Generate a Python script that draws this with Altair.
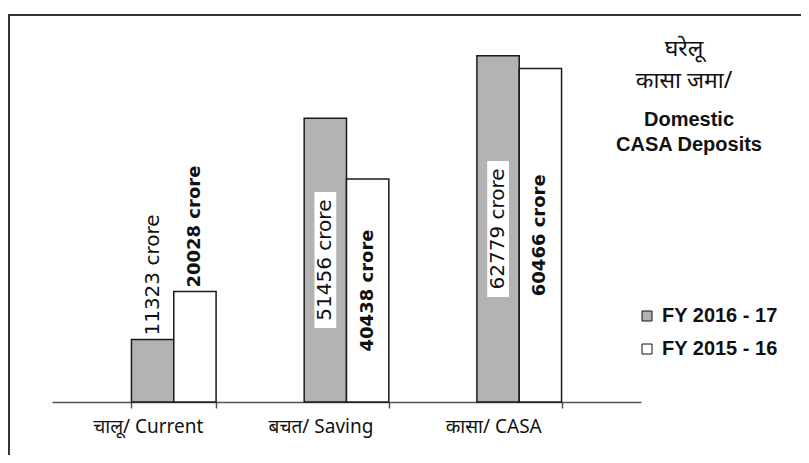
import altair as alt
import pandas as pd

categories = ["चालू/ Current", "बचत/ Saving", "कासा/ CASA"]
series = ["FY 2016 - 17", "FY 2015 - 16"]
values_2016_17 = [11323, 51456, 62779]
values_2015_16 = [20028, 40438, 60466]
labels_2016_17 = ["11323  crore", "51456  crore", "62779 crore"]
labels_2015_16 = ["20028 crore", "40438 crore", "60466 crore"]
title_hi = ["घरेलू", "कासा जमा/"]
title_en = ["Domestic", "CASA Deposits"]
colors = ["#b3b3b3", "#ffffff"]

rows = []
for i, c in enumerate(categories):
    rows.append({"cat": c, "series": series[0], "value": values_2016_17[i], "label": labels_2016_17[i]})
    rows.append({"cat": c, "series": series[1], "value": values_2015_16[i], "label": labels_2015_16[i]})
df = pd.DataFrame(rows)

LATIN = "Liberation Sans"
DEV = "Noto Sans, Noto Sans Devanagari, Lohit Devanagari, sans-serif"

x_enc = alt.X(
    "cat:N", sort=categories, title=None,
    scale=alt.Scale(paddingInner=0.51, paddingOuter=0.46),
    axis=alt.Axis(labelAngle=0, labelFontSize=19, labelFont=DEV, labelColor="#111",
                  labelOffset=-26, labelPadding=9, domainColor="#555", domainWidth=1.5,
                  tickColor="#555", tickSize=6, tickWidth=1.5, tickBand="extent",
                  grid=False, title=None, labelLimit=0),
)
xo_enc = alt.XOffset("series:N", sort=series, scale=alt.Scale(paddingInner=0, paddingOuter=0))
y_enc = alt.Y("value:Q", scale=alt.Scale(domain=[0, 66000]), axis=None)

base = alt.Chart(df)

frame = alt.Chart(pd.DataFrame({"k": [0]})).mark_rect(
    filled=False, stroke="#333", strokeWidth=2
).encode(x=alt.value(-43), x2=alt.value(780), y=alt.value(-23), y2=alt.value(460))

bars = base.mark_bar(stroke="#1a1a1a", strokeWidth=1.5).encode(
    x=x_enc, xOffset=xo_enc, y=y_enc,
    color=alt.Color(
        "series:N", sort=series,
        scale=alt.Scale(domain=series, range=colors),
        legend=alt.Legend(orient="none", legendX=585, legendY=268, title=None,
                          symbolType="square", symbolSize=100, symbolStrokeColor="#111",
                          symbolStrokeWidth=1, labelFont=LATIN, labelFontSize=20,
                          labelFontWeight="bold", labelColor="#111", labelOffset=5,
                          rowPadding=13, padding=0),
    ),
)

# labels sitting above short bars
above = base.transform_filter("datum.value < 30000")
above_reg = above.transform_filter(alt.datum.series == series[0]).mark_text(
    angle=270, align="left", baseline="middle", dx=4, font="DejaVu Sans", fontSize=20, color="#111"
).encode(x=alt.X("cat:N", sort=categories), xOffset=xo_enc, y=y_enc, text="label:N")
above_bold = above.transform_filter(alt.datum.series == series[1]).mark_text(
    angle=270, align="left", baseline="middle", dx=4, font="DejaVu Sans", fontWeight="bold",
    fontSize=18, color="#111"
).encode(x=alt.X("cat:N", sort=categories), xOffset=xo_enc, y=y_enc, text="label:N")

# labels inside tall bars
inside = base.transform_filter("datum.value >= 30000").transform_calculate(mid="datum.value / 2")
y_mid = alt.Y("mid:Q", scale=alt.Scale(domain=[0, 66000]), axis=None)
boxes = inside.transform_filter(alt.datum.series == series[0]).mark_point(
    shape="M-0.16,-1L0.16,-1L0.16,1L-0.16,1Z", filled=True, fill="white", opacity=1,
    size=18500, strokeWidth=0
).encode(x=alt.X("cat:N", sort=categories), xOffset=xo_enc, y=y_mid)
inside_reg = inside.transform_filter(alt.datum.series == series[0]).mark_text(
    angle=270, align="center", baseline="middle", font="DejaVu Sans", fontSize=20, color="#111"
).encode(x=alt.X("cat:N", sort=categories), xOffset=xo_enc, y=y_mid, text="label:N")
inside_bold = inside.transform_filter(alt.datum.series == series[1]).mark_text(
    angle=270, align="center", baseline="middle", font="DejaVu Sans", fontWeight="bold",
    fontSize=18, color="#111"
).encode(x=alt.X("cat:N", sort=categories), xOffset=xo_enc, y=y_mid, text="label:N")

one = pd.DataFrame({"k": [0]})
t_hi = alt.Chart(one).mark_text(
    text=title_hi, align="center", baseline="alphabetic", font=DEV, fontSize=23,
    lineHeight=32, color="#111"
).encode(x=alt.value(632), y=alt.value(18))
t_en = alt.Chart(one).mark_text(
    text=title_en, align="center", baseline="alphabetic", font=LATIN, fontSize=20,
    fontWeight="bold", lineHeight=25, color="#111"
).encode(x=alt.value(637), y=alt.value(88))

chart = alt.layer(
    frame, bars, above_reg, above_bold, boxes, inside_reg, inside_bold, t_hi, t_en
).properties(
    width=589, height=364,
    background="white",
    autosize=alt.AutoSizeParams(type="none"),
    padding={"left": 44, "top": 30, "right": 160, "bottom": 53},
).configure_view(stroke=None, strokeWidth=0)

chart.save("out.html", embed_options={"renderer": "svg", "actions": False})
